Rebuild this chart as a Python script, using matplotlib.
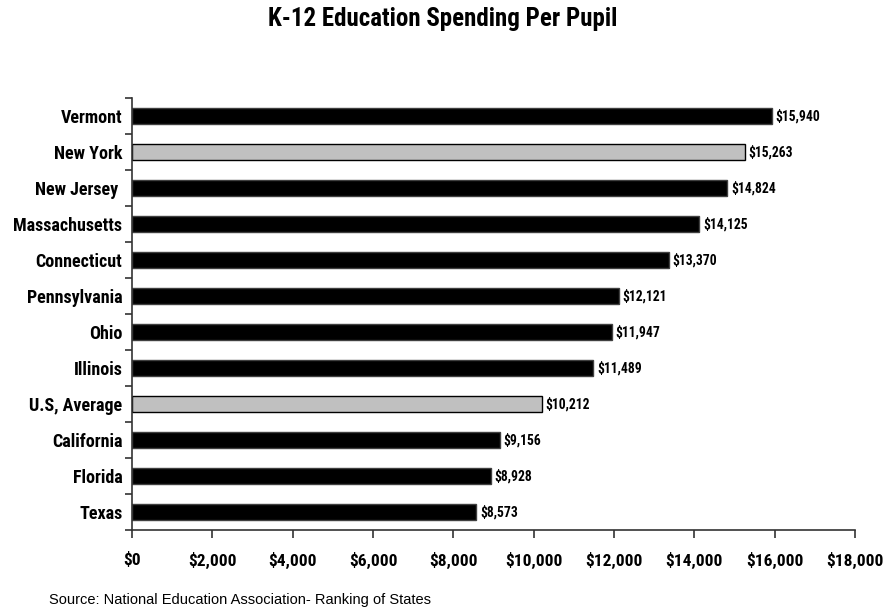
import matplotlib
matplotlib.use("Agg")
import matplotlib.pyplot as plt
from matplotlib.ticker import FuncFormatter, FixedLocator
from matplotlib import font_manager

states = ["Vermont", "New York", "New Jersey ", "Massachusetts", "Connecticut",
          "Pennsylvania", "Ohio", "Illinois", "U.S, Average", "California",
          "Florida", "Texas"]
spending = [15940, 15263, 14824, 14125, 13370, 12121, 11947, 11489, 10212,
            9156, 8928, 8573]
highlight = ["New York", "U.S, Average"]
x_ticks = [0, 2000, 4000, 6000, 8000, 10000, 12000, 14000, 16000, 18000]

# pick a narrow bold face
available = {f.name for f in font_manager.fontManager.ttflist}
narrow = next((n for n in ["Arial Narrow", "Liberation Sans Narrow", "Roboto Condensed",
                           "Asap Condensed", "Barlow Semi Condensed", "Archivo Narrow"]
               if n in available), "DejaVu Sans")

fig = plt.figure(figsize=(8.85, 6.15), dpi=100)
ax = fig.add_axes([0.1492, 0.1382, 0.8169, 0.7025])

ypos = list(range(len(states)))
colors = ["#c0c0c0" if s in highlight else "black" for s in states]
edges = ["black" if s in highlight else "#404040" for s in states]
ax.barh(ypos, spending, height=0.42, color=colors, edgecolor=edges, linewidth=1)

for y, v in zip(ypos, spending):
    ax.text(v + 90, y, f"${v:,}", va="center", ha="left", fontsize=9.8,
            fontweight="bold", family=narrow)

ax.set_ylim(len(states) - 0.5, -0.5)
ax.set_xlim(0, 18000)
ax.xaxis.set_major_locator(FixedLocator(x_ticks))
ax.xaxis.set_major_formatter(FuncFormatter(lambda v, p: f"${v:,.0f}"))
ax.set_yticks(ypos)
ax.set_yticklabels(states)
ax.set_yticks([i - 0.5 for i in range(len(states) + 1)], minor=True)

for s in ("top", "right"):
    ax.spines[s].set_visible(False)
for s in ("left", "bottom"):
    ax.spines[s].set_color("#333333")
    ax.spines[s].set_linewidth(1.2)

ax.tick_params(axis="y", which="major", length=0, pad=7)
ax.tick_params(axis="y", which="minor", length=5, width=1.2, color="#333333")
ax.tick_params(axis="x", which="major", length=6, width=1.2, color="#333333", pad=10)

for lab in ax.get_yticklabels():
    lab.set_fontweight("bold")
    lab.set_fontsize(13)
    lab.set_family(narrow)
for lab in ax.get_xticklabels():
    lab.set_fontweight("bold")
    lab.set_fontsize(12.5)
    lab.set_family(narrow)

fig.text(0.5, 0.969, "K-12 Education Spending Per Pupil", ha="center", va="center",
         fontsize=18, fontweight="bold", family=narrow)
fig.text(0.055, 0.024, "Source: National Education Association- Ranking of States",
         ha="left", va="center", fontsize=10.5, family="Liberation Sans")

fig.savefig("out.png", dpi=100)
